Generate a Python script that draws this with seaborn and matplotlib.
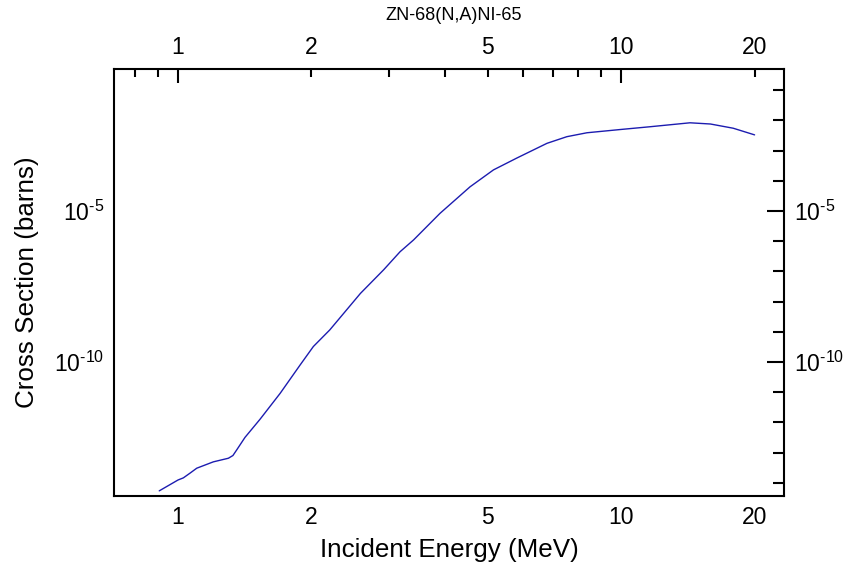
import matplotlib
matplotlib.use("Agg")
import matplotlib.pyplot as plt
import matplotlib.ticker as mticker
import numpy as np
import pandas as pd
import seaborn as sns

# Data (energy in MeV, log10 of cross section in barns)
energy = [0.907, 1.0, 1.028, 1.065, 1.102, 1.201, 1.299, 1.330, 1.357, 1.416, 1.531, 1.70,
          1.886, 2.02, 2.20, 2.58, 2.91, 3.17, 3.40, 3.90, 4.56, 5.15,
          5.81, 6.80, 7.54, 8.37, 10.0, 11.63, 14.3, 15.9, 17.9, 20.0]
log_xs = [-14.27, -13.91, -13.84, -13.68, -13.52, -13.31, -13.19, -13.10, -12.91, -12.50, -11.90, -11.04,
          -10.10, -9.49, -8.94, -7.73, -6.95, -6.35, -5.96, -5.08, -4.20, -3.64,
          -3.25, -2.76, -2.54, -2.41, -2.30, -2.21, -2.08, -2.12, -2.26, -2.48]

x_labels = {1: "1", 2: "2", 5: "5", 10: "10", 20: "20"}
y_major = [1e-10, 1e-5]
y_major_labels = [r"$10^{\text{-}10}$", r"$10^{\text{-}5}$"]

df = pd.DataFrame({"energy": energy, "xs": 10.0 ** np.array(log_xs)})

sns.set_style("white")
plt.rcParams["font.family"] = ["Liberation Sans", "DejaVu Sans"]
plt.rcParams["mathtext.fontset"] = "custom"
plt.rcParams["mathtext.rm"] = "Liberation Sans"
plt.rcParams["mathtext.it"] = "Liberation Sans"
plt.rcParams["mathtext.default"] = "regular"
plt.rcParams["text.color"] = "black"
plt.rcParams["axes.labelcolor"] = "black"

fig = plt.figure(figsize=(8.54, 5.66), dpi=100)
ax = fig.add_axes([0.1335, 0.1237, 0.7845, 0.7543])

sns.lineplot(data=df, x="energy", y="xs", ax=ax, color="#1c1cb0", linewidth=1.0)

ax.set_xscale("log")
ax.set_yscale("log")
ax.set_xlim(0.717, 23.3)
ax.set_ylim(10 ** -14.44, 10 ** -0.30)

# x: long ticks at decades, short ones elsewhere, labels at 1 2 5 10 20
ax.xaxis.set_major_locator(mticker.FixedLocator([1, 10]))
minor_x = [0.8, 0.9, 2, 3, 4, 5, 6, 7, 8, 9, 20]
ax.xaxis.set_minor_locator(mticker.FixedLocator(minor_x))
fmt = mticker.FuncFormatter(lambda v, p: x_labels.get(int(round(v)), "") if abs(v - round(v)) < 1e-6 else "")
ax.xaxis.set_major_formatter(fmt)
ax.xaxis.set_minor_formatter(fmt)

ax.yaxis.set_major_locator(mticker.FixedLocator(y_major))
ax.yaxis.set_major_formatter(mticker.FixedFormatter(y_major_labels))
ax.yaxis.set_minor_locator(mticker.FixedLocator([10.0 ** k for k in range(-14, 0)]))
ax.yaxis.set_minor_formatter(mticker.NullFormatter())

ax.tick_params(which="both", direction="in", top=True, right=True,
               labeltop=True, labelright=True, width=1.5, labelsize=16.5, colors="black")
ax.tick_params(axis="x", which="major", length=10, pad=7)
ax.tick_params(axis="x", which="minor", length=6, pad=7)
ax.tick_params(axis="y", which="major", length=12, pad=7)
ax.tick_params(axis="y", which="minor", length=8)

for s in ax.spines.values():
    s.set_linewidth(1.5)
    s.set_color("black")

ax.set_xlabel("Incident Energy (MeV)", fontsize=18.7, labelpad=7)
ax.set_ylabel("Cross Section (barns)", fontsize=18.7, labelpad=11)
fig.text(0.5315, 0.972, "ZN-68(N,A)NI-65", ha="center", va="center", fontsize=13)

fig.savefig("out.png", dpi=100)
